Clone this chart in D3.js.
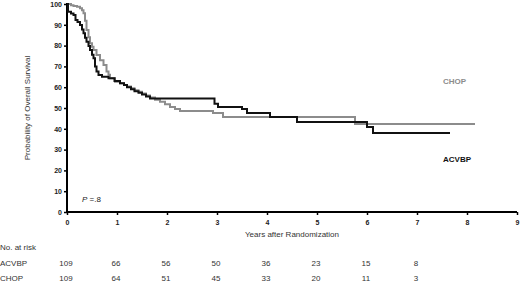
<!DOCTYPE html>
<html>
<head>
<meta charset="utf-8">
<script src="https://cdn.jsdelivr.net/npm/d3@7"></script>
<style>
  body { margin: 0; background: #fff; }
  text { font-family: "Liberation Sans", Arial, sans-serif; }
</style>
</head>
<body>
<div id="chart"></div>
<script>
// Kaplan-Meier steps (years, % alive)
const acvbpYears = [0, 0.02, 0.08, 0.13, 0.17, 0.21, 0.26, 0.3, 0.33, 0.36, 0.39, 0.43, 0.46, 0.5, 0.53, 0.56, 0.59, 0.63, 0.7, 0.83, 0.95, 1.06, 1.14, 1.2, 1.28, 1.35, 1.43, 1.5, 1.58, 1.66, 2.9, 2.95, 3.02, 3.5, 3.6, 4.06, 4.6, 6.0, 6.12, 7.66];
const acvbpSurv = [100, 96.3, 95.4, 94.7, 92.3, 91.4, 89.9, 87.8, 85.9, 83.8, 81.9, 79.8, 77.9, 75.6, 73.9, 69.9, 67.5, 65.9, 65, 64.3, 63, 61.9, 61, 60, 59, 58, 57.3, 56.5, 55.5, 54.6, 54.6, 52, 50.5, 49.5, 47.6, 45.7, 43.3, 40.9, 38, 38];
const chopYears = [0, 0.08, 0.13, 0.2, 0.26, 0.3, 0.33, 0.36, 0.39, 0.43, 0.46, 0.5, 0.53, 0.59, 0.66, 0.73, 0.79, 0.83, 0.86, 0.96, 1.06, 1.14, 1.2, 1.28, 1.35, 1.43, 1.5, 1.58, 1.66, 1.76, 1.86, 1.96, 2.06, 2.16, 2.26, 2.92, 3.12, 5.76, 8.16];
const chopSurv = [100, 99.4, 99, 98.7, 98, 97, 95.5, 92, 87.5, 84, 81.1, 79.5, 77.9, 75.5, 73, 70.7, 67.5, 66, 64.3, 62.6, 61.9, 61, 60.3, 59.5, 58.5, 57.8, 57, 56, 55, 54, 53, 51.8, 50.5, 49.5, 48.5, 47.6, 45.7, 42.3, 42.3];

// numbers at risk
const riskYears = [0, 1, 2, 3, 4, 5, 6, 7];
const riskACVBP = [109, 66, 56, 50, 36, 23, 15, 8];
const riskCHOP = [109, 64, 51, 45, 33, 20, 11, 3];

const xTicks = [0, 1, 2, 3, 4, 5, 6, 7, 8, 9];
const yTicks = [0, 10, 20, 30, 40, 50, 60, 70, 80, 90, 100];

const width = 520, height = 282;
const svg = d3.select("#chart").append("svg")
  .attr("width", width)
  .attr("height", height);

const x = d3.scaleLinear().domain([0, 9]).range([67, 517]);
const y = d3.scaleLinear().domain([0, 100]).range([212, 4]);

// y axis
const yAxis = svg.append("g")
  .attr("transform", "translate(67,0)")
  .call(d3.axisLeft(y).tickValues(yTicks).tickSize(3).tickPadding(2));
yAxis.select(".domain").attr("stroke", "#000").attr("stroke-width", 2).attr("d", "M0,212V3");
yAxis.selectAll(".tick line").attr("stroke-width", 1.5);
yAxis.selectAll(".tick text").attr("font-size", 7).attr("font-weight", "bold").attr("fill", "#222");

// x axis
const xAxis = svg.append("g")
  .attr("transform", "translate(0,212)")
  .call(d3.axisBottom(x).tickValues(xTicks).tickSize(3).tickPadding(5));
xAxis.select(".domain").attr("stroke", "#000").attr("stroke-width", 2).attr("d", "M66,0H517");
xAxis.selectAll(".tick line").attr("stroke-width", 1.5);
xAxis.selectAll(".tick text").attr("font-size", 7).attr("font-weight", "bold").attr("fill", "#222");

// axis titles
svg.append("text")
  .attr("x", 292).attr("y", 237)
  .attr("text-anchor", "middle")
  .attr("font-size", 8).attr("fill", "#333")
  .text("Years after Randomization");

svg.append("text")
  .attr("transform", "translate(30,108) rotate(-90)")
  .attr("text-anchor", "middle")
  .attr("font-size", 8).attr("fill", "#333")
  .text("Probability of Overall Survival");

// survival curves
const line = d3.line()
  .x((d) => x(d[0]))
  .y((d) => y(d[1]))
  .curve(d3.curveStepAfter);

svg.append("path")
  .datum(chopYears.map((t, i) => [t, chopSurv[i]]))
  .attr("fill", "none")
  .attr("stroke", "#8c8c8c")
  .attr("stroke-width", 2)
  .attr("d", line);

svg.append("path")
  .datum(acvbpYears.map((t, i) => [t, acvbpSurv[i]]))
  .attr("fill", "none")
  .attr("stroke", "#111")
  .attr("stroke-width", 2)
  .attr("d", line);

// series labels
svg.append("text")
  .attr("x", 443).attr("y", 84)
  .attr("font-size", 8).attr("font-weight", "bold").attr("fill", "#8c8c8c")
  .text("CHOP");
svg.append("text")
  .attr("x", 443).attr("y", 162)
  .attr("font-size", 8).attr("font-weight", "bold").attr("fill", "#111")
  .text("ACVBP");

// P value
const p = svg.append("text")
  .attr("x", 82).attr("y", 202)
  .attr("font-size", 8).attr("fill", "#222");
p.append("tspan").attr("font-style", "italic").text("P");
p.append("tspan").text(" =.8");

// number at risk table
svg.append("text")
  .attr("x", 0).attr("y", 250)
  .attr("font-size", 8).attr("fill", "#333")
  .text("No. at risk");

const rows = [["ACVBP", riskACVBP, 266], ["CHOP", riskCHOP, 281]];
rows.forEach(([name, vals, yy]) => {
  svg.append("text")
    .attr("x", 0).attr("y", yy)
    .attr("font-size", 8).attr("fill", "#333")
    .text(name);
  svg.append("g").selectAll("text")
    .data(vals)
    .join("text")
    .attr("x", (d, i) => x(riskYears[i]) - 1)
    .attr("y", yy)
    .attr("text-anchor", "middle")
    .attr("font-size", 8).attr("fill", "#333")
    .text((d) => d);
});
</script>
</body>
</html>
